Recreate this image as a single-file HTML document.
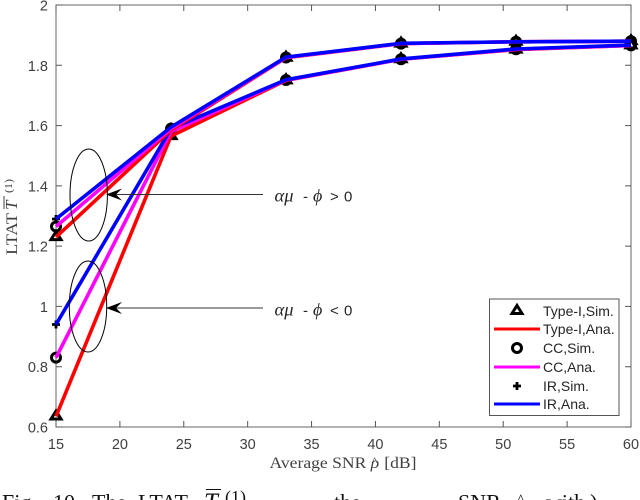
<!DOCTYPE html>
<html lang="en">
<head>
<meta charset="utf-8">
<title>LTAT vs Average SNR</title>
<style>
html,body{margin:0;padding:0;background:#fff;width:640px;height:500px;overflow:hidden}
svg{display:block}
.tick{font:14.5px "Liberation Sans",sans-serif;fill:#404040}
.leg{font:14px "Liberation Sans",sans-serif;fill:#262626}
.ser{font-family:"Liberation Serif",serif;fill:#404040}
.note{font:15px "Liberation Sans",sans-serif;fill:#262626}
.greek{font:italic 18px "Liberation Serif",serif;fill:#262626}
.cap{font:22px "Liberation Serif",serif;fill:#111}
</style>
</head>
<body>
<svg id="chart" width="640" height="500" viewBox="0 0 640 500" xmlns="http://www.w3.org/2000/svg">
  <rect x="56" y="5" width="575" height="422" fill="#fff"/>
  <g id="axes"></g>
  <g id="series"></g>

  <ellipse cx="88.7" cy="195" rx="18.7" ry="46" fill="none" stroke="#000" stroke-width="1"/>
  <ellipse cx="88" cy="306.5" rx="18.7" ry="45.5" fill="none" stroke="#000" stroke-width="1"/>
  <line x1="263" y1="194.5" x2="112" y2="194.5" stroke="#333" stroke-width="1"/>
  <path d="M106 194.5L122 188.5L116 194.5L122 200.5Z" fill="#000"/>
  <line x1="263" y1="308" x2="112" y2="308" stroke="#333" stroke-width="1"/>
  <path d="M106 308L122 302L116 308L122 314Z" fill="#000"/>

  <g>
    <text class="greek" x="274.5" y="201.5" textLength="19" lengthAdjust="spacingAndGlyphs">αμ</text>
    <text class="note" x="303" y="201.5">-</text>
    <text class="greek" x="313" y="201.5">ϕ</text>
    <text class="note" x="330" y="201.5">&gt;</text>
    <text class="note" x="344" y="201.5">0</text>
  </g>
  <g>
    <text class="greek" x="274.5" y="315.3" textLength="19" lengthAdjust="spacingAndGlyphs">αμ</text>
    <text class="note" x="303" y="315.3">-</text>
    <text class="greek" x="313" y="315.3">ϕ</text>
    <text class="note" x="330" y="315.3">&lt;</text>
    <text class="note" x="344" y="315.3">0</text>
  </g>

  <text class="ser" x="269.5" y="468" font-size="16" textLength="147" lengthAdjust="spacingAndGlyphs">Average SNR <tspan font-style="italic">ρ</tspan><tspan font-size="12" dx="-7" dy="-3">^</tspan><tspan dx="6" dy="3">[dB]</tspan></text>
  <g transform="translate(17,255) rotate(-90)">
    <text class="ser" x="0" y="0" font-size="16" textLength="42" lengthAdjust="spacingAndGlyphs">LTAT</text>
    <text class="ser" x="45" y="0" font-size="17" font-style="italic">T</text>
    <line x1="46" x2="59" y1="-13" y2="-13" stroke="#404040" stroke-width="1"/>
    <text class="ser" x="62" y="-5" font-size="11" textLength="14" lengthAdjust="spacingAndGlyphs">(1)</text>
  </g>

  <g id="legend">
    <rect x="489.5" y="299" width="129.5" height="116.5" fill="#fff" stroke="#555" stroke-width="1"/>
  </g>

  <g>
    <text class="cap" x="2" y="509.5">Fig.</text>
    <text class="cap" x="53" y="509.5">10.</text>
    <text class="cap" x="92" y="509.5">The</text>
    <text class="cap" x="138" y="509.5">LTAT</text>
    <text class="cap" x="204" y="510" style="font-style:italic;font-size:25px">T</text>
    <line x1="206" x2="221" y1="489.5" y2="489.5" stroke="#111" stroke-width="1"/>
    <text class="cap" x="225" y="503" style="font-size:18px">(1)</text>
    <text class="cap" x="334" y="509.5">the</text>
    <text class="cap" x="458" y="509.5">SNR</text>
    <text class="cap" x="517" y="505" style="font-size:16px">^</text>
    <text class="cap" x="546" y="509.5">with</text>
    <text class="cap" x="590" y="509.5">)</text>
  </g>
</svg>
<script>
const snrValues = [15, 24, 33, 42, 51, 60];
const xTickLabels = [15, 20, 25, 30, 35, 40, 45, 50, 55, 60];
const yTickLabels = [0.6, 0.8, 1, 1.2, 1.4, 1.6, 1.8, 2];

const typeIUpper = [1.23, 1.585, 1.825, 1.872, 1.878, 1.88];
const typeILower = [0.635, 1.565, 1.75, 1.82, 1.852, 1.866];
const ccUpper = [1.265, 1.59, 1.826, 1.872, 1.878, 1.88];
const ccLower = [0.83, 1.58, 1.751, 1.82, 1.853, 1.866];
const irUpper = [1.29, 1.595, 1.827, 1.873, 1.878, 1.88];
const irLower = [0.94, 1.59, 1.752, 1.821, 1.854, 1.867];

const seriesNames = ['type-i', 'cc', 'ir'];
const seriesColors = ['#ff0000', '#ff00ff', '#0000ff'];
const seriesMarkers = ['triangle', 'circle', 'plus'];
const markerDrawOrder = [2, 1, 0];
const upperCurves = [typeIUpper, ccUpper, irUpper];
const lowerCurves = [typeILower, ccLower, irLower];
const legendLabels = ['Type-I,Sim.', 'Type-I,Ana.', 'CC,Sim.', 'CC,Ana.', 'IR,Sim.', 'IR,Ana.'];

const NS = 'http://www.w3.org/2000/svg';
const plotLeft = 56, plotRight = 631, plotTop = 5, plotBottom = 427;
function xScale(v) { return plotLeft + (v - 15) / (60 - 15) * (plotRight - plotLeft); }
function yScale(v) { return plotBottom - (v - 0.6) / (2 - 0.6) * (plotBottom - plotTop); }
function make(tag, attrs) {
  const el = document.createElementNS(NS, tag);
  for (const k in attrs) el.setAttribute(k, attrs[k]);
  return el;
}

const axes = document.getElementById('axes');
const frame = make('rect', { x: plotLeft, y: plotTop, width: plotRight - plotLeft, height: plotBottom - plotTop, fill: 'none', stroke: '#666', 'stroke-width': 1 });


axes.appendChild(frame);

xTickLabels.forEach(function (t) {
  const x = xScale(t);
  const g = make('path', { d: 'M' + x + ' ' + plotBottom + 'v-6M' + x + ' ' + plotTop + 'v6', stroke: '#555', 'stroke-width': 1, fill: 'none' });
  
  
  axes.appendChild(g);
  const label = make('text', { x: x, y: 449, 'text-anchor': 'middle', class: 'tick' });
  
  
  label.textContent = t;
  axes.appendChild(label);
});

yTickLabels.forEach(function (t) {
  const y = yScale(t);
  const g = make('path', { d: 'M' + plotLeft + ' ' + y + 'h6M' + plotRight + ' ' + y + 'h-6', stroke: '#555', 'stroke-width': 1, fill: 'none' });
  
  
  axes.appendChild(g);
  const label = make('text', { x: 48, y: y + 5.5, 'text-anchor': 'end', class: 'tick' });
  
  
  label.textContent = t;
  axes.appendChild(label);
});

function drawMarker(parent, kind, x, y) {
  let m;
  if (kind === 'triangle') {
    m = make('path', { d: 'M' + x + ' ' + (y - 5.5) + 'L' + (x + 5) + ' ' + (y + 2.5) + 'H' + (x - 5) + 'Z', fill: '#fff', stroke: '#000', 'stroke-width': 3, 'stroke-linejoin': 'miter' });
  } else if (kind === 'circle') {
    m = make('circle', { cx: x, cy: y, r: 4.5, fill: 'none', stroke: '#000', 'stroke-width': 3 });
  } else {
    m = make('path', { d: 'M' + (x - 4) + ' ' + y + 'H' + (x + 4) + 'M' + x + ' ' + (y - 4) + 'V' + (y + 4), fill: 'none', stroke: '#000', 'stroke-width': 2.8 });
  }
  
  
  parent.appendChild(m);
}

const seriesGroup = document.getElementById('series');
[upperCurves, lowerCurves].forEach(function (curves) {
  markerDrawOrder.forEach(function (i) {
    curves[i].forEach(function (v, j) {
      drawMarker(seriesGroup, seriesMarkers[i], xScale(snrValues[j]), yScale(v));
    });
  });
});
[lowerCurves, upperCurves].forEach(function (curves) {
  curves.forEach(function (vals, i) {
    const pts = vals.map(function (v, j) { return xScale(snrValues[j]) + ',' + yScale(v); }).join(' ');
    const line = make('polyline', { points: pts, fill: 'none', stroke: seriesColors[i], 'stroke-width': 3.6, 'stroke-linejoin': 'miter' });
    
    
    seriesGroup.appendChild(line);
  });
});

const legend = document.getElementById('legend');
const rowY = [311, 329, 348, 367, 386, 404];
legendLabels.forEach(function (text, i) {
  const idx = Math.floor(i / 2);
  if (i % 2 === 0) {
    drawMarker(legend, seriesMarkers[idx], 517, rowY[i]);
  } else {
    const sw = make('line', { x1: 494, x2: 540, y1: rowY[i], y2: rowY[i], stroke: seriesColors[idx], 'stroke-width': 3 });
    
    
    legend.appendChild(sw);
  }
  const label = make('text', { x: 543, y: rowY[i] + 5, class: 'leg' });
  
  
  label.textContent = text;
  legend.appendChild(label);
});
</script>
</body>
</html>
